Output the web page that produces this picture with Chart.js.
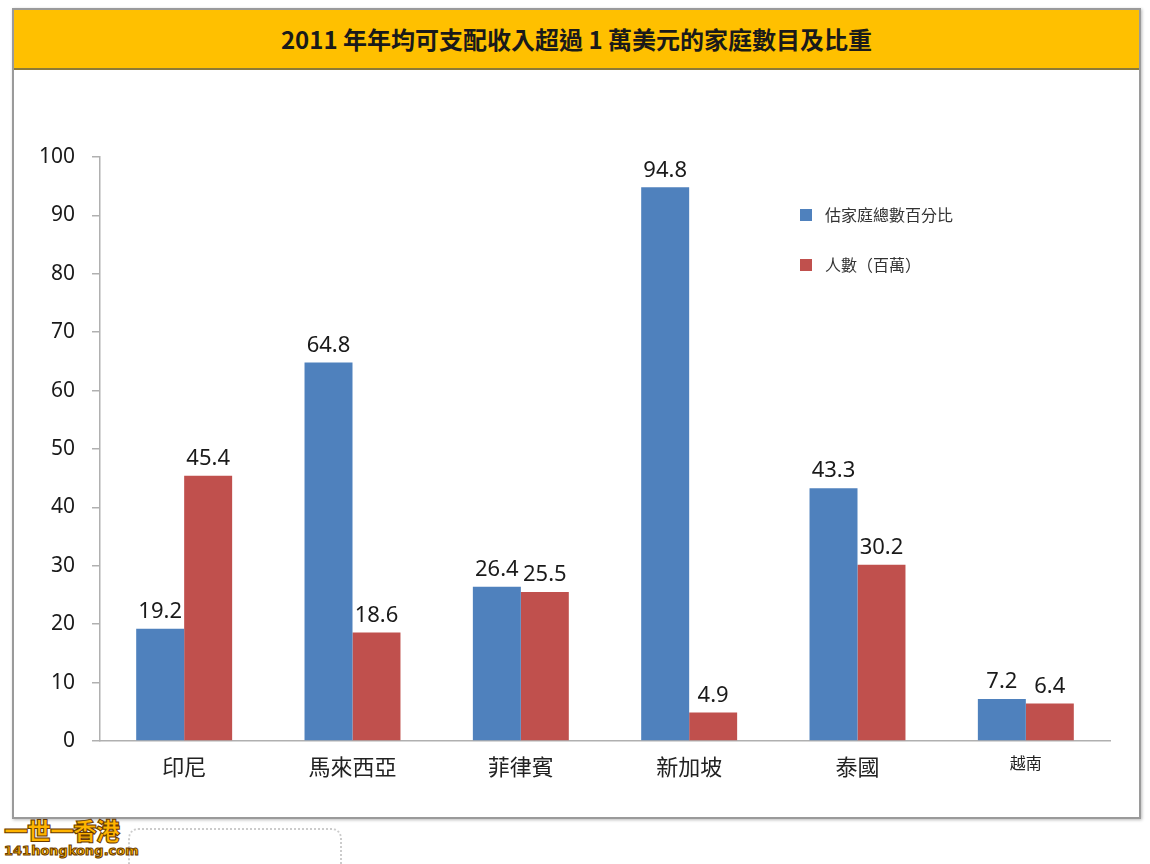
<!DOCTYPE html>
<html>
<head>
<meta charset="utf-8">
<script src="https://cdn.jsdelivr.net/npm/chart.js@4"></script>
<style>
  body { margin: 0; background: #fff; width: 1150px; height: 864px; position: relative; overflow: hidden; font-family: "Noto Sans CJK TC", sans-serif; }
  #frame { position: absolute; left: 12px; top: 8px; width: 1125px; height: 807px; border: 2px solid #9a9a9a; box-shadow: 1px 1px 3px #bbb; }
  #title { position: absolute; left: 0; top: 0; right: 0; height: 58px; background: #ffc000; border-bottom: 2px solid #8c7a3a;
           text-align: center; line-height: 58px; font-size: 24px; font-weight: bold; color: #1a1a1a; }
  #chart { position: absolute; left: 0; top: 0; }
  #mark { position: absolute; left: 4px; top: 816px; font-weight: 900; color: #ffb400; -webkit-text-stroke: 1px #6a3a00; }
  #mark .a { font-size: 24px; line-height: 28px; letter-spacing: -1px; }
  #mark .b { font-size: 13px; line-height: 14px; font-family: "DejaVu Sans", sans-serif; }
  #bubble { position: absolute; left: 128px; top: 828px; width: 210px; height: 50px; border: 2px dotted #ccc; border-radius: 10px; }
</style>
</head>
<body>
<div id="frame"><div id="title">2011 年年均可支配收入超過 1 萬美元的家庭數目及比重</div></div>
<div id="bubble"></div>
<div id="mark"><div class="a">一世一香港</div><div class="b">141hongkong.com</div></div>
<canvas id="chart" width="1150" height="864"></canvas>
<script>
const categories = ['印尼', '馬來西亞', '菲律賓', '新加坡', '泰國', '越南'];
const householdPct = [19.2, 64.8, 26.4, 94.8, 43.3, 7.2];
const peopleMillions = [45.4, 18.6, 25.5, 4.9, 30.2, 6.4];
const seriesNames = ['估家庭總數百分比', '人數（百萬）'];
const yTicks = [0, 10, 20, 30, 40, 50, 60, 70, 80, 90, 100];

const colors = ['#4f81bd', '#c0504d'];

// value labels above each bar
const valueLabels = {
    id: 'valueLabels',
    afterDatasetsDraw(chart) {
        const ctx = chart.ctx;
        ctx.save();
        ctx.font = '22px "Noto Sans", sans-serif';
        ctx.fillStyle = '#1a1a1a';
        ctx.textAlign = 'center';
        ctx.textBaseline = 'bottom';
        chart.data.datasets.forEach((ds, i) => {
            chart.getDatasetMeta(i).data.forEach((bar, j) => {
                ctx.fillText(ds.data[j].toFixed(1), bar.x, bar.y - 6);
            });
        });
        ctx.restore();
    }
};

// legend drawn inside the plot, stacked
const insideLegend = {
    id: 'insideLegend',
    afterDraw(chart) {
        const ctx = chart.ctx;
        ctx.save();
        ctx.font = '16px "Noto Sans CJK TC", sans-serif';
        ctx.textBaseline = 'middle';
        chart.data.datasets.forEach((ds, i) => {
            const y = 215 + i * 50;
            ctx.fillStyle = ds.backgroundColor;
            ctx.fillRect(800, y - 6, 12, 12);
            ctx.fillStyle = '#333';
            ctx.fillText(ds.label, 825, y);
        });
        ctx.restore();
    }
};

new Chart(document.getElementById('chart').getContext('2d'), {
    type: 'bar',
    data: {
        labels: categories,
        datasets: [
            { label: seriesNames[0], data: householdPct, backgroundColor: colors[0] },
            { label: seriesNames[1], data: peopleMillions, backgroundColor: colors[1] }
        ]
    },
    options: {
        responsive: false,
        animation: false,
        layout: { padding: { left: 0, right: 40, top: 157, bottom: 73 } },
        datasets: { bar: { categoryPercentage: 0.57, barPercentage: 1 } },
        plugins: { legend: { display: false }, tooltip: { enabled: false } },
        scales: {
            x: {
                grid: { display: false, drawTicks: false },
                border: { display: true, color: '#b0b0b0', width: 1.5 },
                ticks: {
                    padding: 12,
                    color: '#222',
                    font: c => ({ family: '"Noto Sans CJK TC", serif', size: c.index === 5 ? 16 : 22 })
                },
                afterFit: s => { s.height = 50; }
            },
            y: {
                min: 0,
                max: 100,
                afterBuildTicks: s => { s.ticks = yTicks.map(v => ({ value: v })); },
                grid: { display: true, drawOnChartArea: false, drawTicks: true, tickLength: 8, color: '#b0b0b0', lineWidth: 1.5 },
                border: { display: true, color: '#b0b0b0', width: 1.5 },
                ticks: { padding: 17, color: '#1a1a1a', font: { family: '"Noto Sans", sans-serif', size: 21 } },
                afterFit: s => { s.width = 100; }
            }
        }
    },
    plugins: [valueLabels, insideLegend]
});
</script>
</body>
</html>
